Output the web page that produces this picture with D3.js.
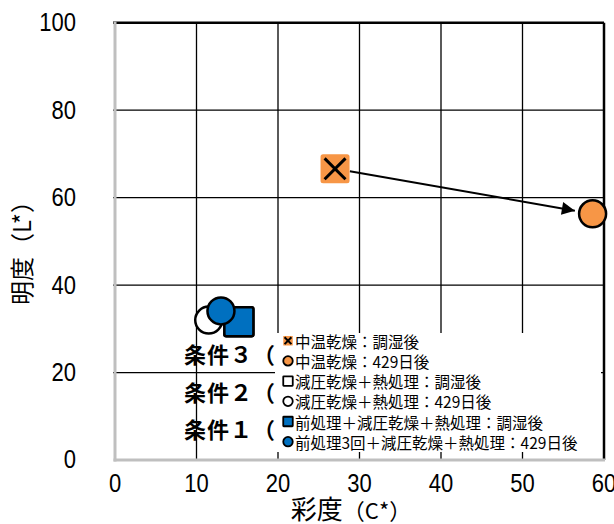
<!DOCTYPE html>
<html>
<head>
<meta charset="utf-8">
<script src="https://cdn.jsdelivr.net/npm/d3@7"></script>
<style>
  html, body { margin: 0; padding: 0; background: #fff; }
  svg { display: block; }
  .tick-label { font-family: "Liberation Sans", Arial, sans-serif; font-size: 25px; fill: #000; }
  .cjk { font-family: "Noto Sans CJK JP", sans-serif; }
</style>
</head>
<body>
<svg id="chart" width="614" height="524"></svg>
<script>
// Series (legend order), chroma C* and lightness L* per series
const seriesNames = [
  "中温乾燥：調湿後",
  "中温乾燥：429日後",
  "減圧乾燥＋熱処理：調湿後",
  "減圧乾燥＋熱処理：429日後",
  "前処理＋減圧乾燥＋熱処理：調湿後",
  "前処理3回＋減圧乾燥＋熱処理：429日後"
];
const chromaValues    = [27.0, 58.6, 15.2, 11.5, 15.2, 13.0];
const lightnessValues = [66.6, 56.3, 31.6, 32.0, 31.6, 34.1];
const markerShapes = ["xsquare", "circle", "square", "circle", "square", "circle"];
const markerFills  = ["#F79646", "#F79646", "#FFFFFF", "#FFFFFF", "#0070C0", "#0070C0"];

// Condition labels beside the legend
const conditionLabels = ["条件３（", "条件２（", "条件１（"];

// Axis ticks
const xTicks = [0, 10, 20, 30, 40, 50, 60];
const yTicks = [0, 20, 40, 60, 80, 100];

const svg = d3.select("#chart");
const x = d3.scaleLinear().domain([0, 60]).range([115, 604]);
const y = d3.scaleLinear().domain([0, 100]).range([460, 22.7]);

// Grid lines
const grid = svg.append("g");
grid.selectAll("line.h").data(yTicks.filter(t => t > 0)).join("line")
  .attr("x1", x(0) - 2).attr("x2", x(60))
  .attr("y1", d => y(d)).attr("y2", d => y(d))
  .attr("stroke", "#000").attr("stroke-width", d => d === 100 ? 2.5 : 1.3);
grid.selectAll("line.v").data(xTicks.filter(t => t > 0)).join("line")
  .attr("x1", d => x(d)).attr("x2", d => x(d))
  .attr("y1", y(100)).attr("y2", y(0))
  .attr("stroke", "#000").attr("stroke-width", d => d === 60 ? 2.5 : 1.3);

// Axis lines (left and bottom, grey)
svg.append("line").attr("x1", x(0)).attr("x2", x(0)).attr("y1", y(100) - 1).attr("y2", y(0) + 1.5)
  .attr("stroke", "#BFBFBF").attr("stroke-width", 3);
svg.append("line").attr("x1", x(0) - 1.5).attr("x2", x(60) + 1).attr("y1", y(0)).attr("y2", y(0))
  .attr("stroke", "#BFBFBF").attr("stroke-width", 3);

// Tick labels, horizontally condensed
svg.append("g").selectAll("g").data(yTicks).join("g")
  .attr("transform", d => `translate(76,${y(d)}) scale(0.88,1)`)
  .append("text").attr("class", "tick-label")
  .attr("text-anchor", "end").attr("dominant-baseline", "central")
  .text(d => d);
svg.append("g").selectAll("g").data(xTicks).join("g")
  .attr("transform", d => `translate(${x(d)},484) scale(0.88,1)`)
  .append("text").attr("class", "tick-label")
  .attr("text-anchor", "middle").attr("dominant-baseline", "central")
  .text(d => d);

// Axis titles
const xTitle = svg.append("text").attr("class", "cjk")
  .attr("x", 351).attr("y", 519).attr("text-anchor", "middle");
xTitle.append("tspan").attr("font-size", 26).text("彩度");
xTitle.append("tspan").attr("font-size", 22).text("（C*）");

svg.append("text").attr("class", "cjk")
  .attr("transform", "translate(31,247) rotate(-90)")
  .attr("text-anchor", "middle").attr("font-size", 24)
  .text("明度（L*）");

// Arrow from the conditioned point to the 429-day point (series 0 -> 1)
const defs = svg.append("defs");
defs.append("marker").attr("id", "arrowhead")
  .attr("viewBox", "0 0 10 10").attr("refX", 10).attr("refY", 5)
  .attr("markerUnits", "userSpaceOnUse")
  .attr("markerWidth", 18).attr("markerHeight", 13)
  .attr("orient", "auto")
  .append("path").attr("d", "M0,0 L10,5 L0,10 Z").attr("fill", "#000");

{
  const x0 = x(chromaValues[0]), y0 = y(lightnessValues[0]);
  const x1 = x(chromaValues[1]), y1 = y(lightnessValues[1]);
  const len = Math.hypot(x1 - x0, y1 - y0);
  const ux = (x1 - x0) / len, uy = (y1 - y0) / len;
  svg.append("line")
    .attr("x1", x0 + ux * 15).attr("y1", y0 + uy * 15)
    .attr("x2", x1 - ux * 18).attr("y2", y1 - uy * 18)
    .attr("stroke", "#000").attr("stroke-width", 2)
    .attr("marker-end", "url(#arrowhead)");
}

// Marker drawing helper
function drawMarker(g, shape, fill, size) {
  const h = size / 2;
  if (shape === "circle") {
    g.append("circle").attr("r", h)
      .attr("fill", fill).attr("stroke", "#000").attr("stroke-width", size > 15 ? 2.5 : 1.8);
  } else if (shape === "square") {
    g.append("rect").attr("x", -h).attr("y", -h).attr("width", size).attr("height", size)
      .attr("rx", size > 15 ? 2 : 0.5)
      .attr("fill", fill).attr("stroke", "#000").attr("stroke-width", size > 15 ? 2.5 : 1.8);
  } else if (shape === "xsquare") {
    g.append("rect").attr("x", -h).attr("y", -h).attr("width", size).attr("height", size)
      .attr("rx", size > 15 ? 2.5 : 0.5).attr("fill", fill);
    const k = h * 0.72;
    g.append("path").attr("d", `M${-k},${-k} L${k},${k} M${k},${-k} L${-k},${k}`)
      .attr("stroke", "#000").attr("stroke-width", size > 15 ? 3 : 2).attr("fill", "none");
  }
}

// Data points
const points = svg.append("g");
seriesNames.forEach((name, i) => {
  const g = points.append("g")
    .attr("transform", `translate(${x(chromaValues[i])},${y(lightnessValues[i])})`);
  const size = markerShapes[i] === "circle" ? 27 : 29;
  drawMarker(g, markerShapes[i], markerFills[i], size);
});

// Legend box
svg.append("rect").attr("x", 275).attr("y", 333).attr("width", 326).attr("height", 119)
  .attr("fill", "#fff");

const legend = svg.append("g");
seriesNames.forEach((name, i) => {
  const ly = 340.7 + i * 20.2;
  const g = legend.append("g").attr("transform", `translate(288,${ly})`);
  drawMarker(g, markerShapes[i], markerFills[i], 9.5);
  legend.append("text").attr("class", "cjk")
    .attr("x", 295).attr("y", ly).attr("dominant-baseline", "central")
    .attr("font-size", 15.5).text(name);
});

// Condition labels
svg.append("g").selectAll("text").data(conditionLabels).join("text")
  .attr("class", "cjk")
  .attr("x", 184).attr("y", (d, i) => 353 + i * 37.5)
  .attr("dominant-baseline", "central")
  .attr("font-size", 22).attr("font-weight", "bold")
  .attr("letter-spacing", 1)
  .text(d => d);
</script>
</body>
</html>
